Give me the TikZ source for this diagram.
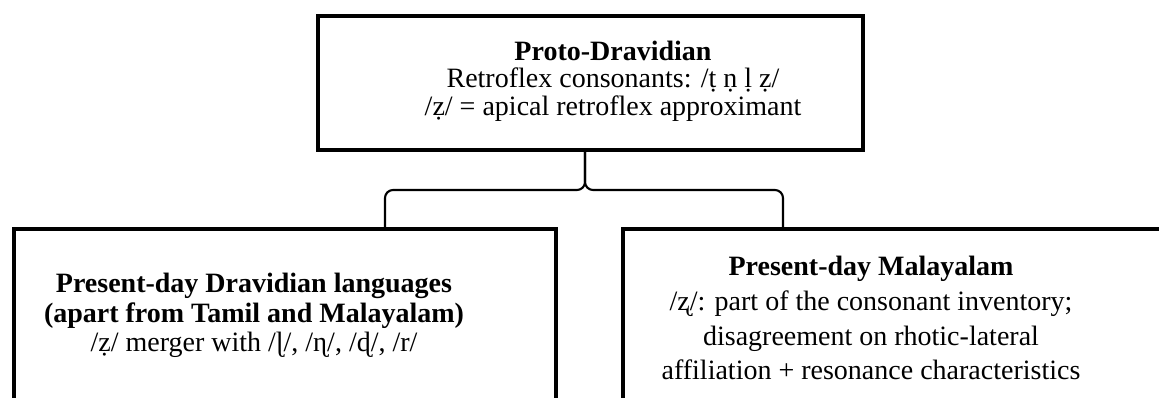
\documentclass[tikz,border=0pt]{standalone}
\usepackage{fontspec}
\setmainfont{Liberation Serif}
\usetikzlibrary{positioning,calc}
\definecolor{ink}{HTML}{000000}

\begin{document}
\begin{tikzpicture}[x=0.75pt,y=-0.75pt,
    font=\fontsize{21}{20.6}\selectfont,
    panel/.style={draw=ink,line width=3pt,fill=white,inner sep=0pt},
    txt/.style={align=center,inner sep=0pt,text=ink},
    brace/.style={draw=ink,line width=1.6pt,rounded corners=6pt}]
  \useasboundingbox (0,0) rectangle (1159,397);
  % boxes
  \node[panel,minimum width=408.75pt,minimum height=100.5pt] (proto) at (590.5,83) {};
  \node[panel,minimum width=406.5pt,minimum height=150pt] (others) at (285,329) {};
  \node[panel,minimum width=411.75pt,minimum height=150pt] (mal) at (897.5,329) {};
  % texts
  \node[txt] (protoT) at (613,81) {
    \textbf{Proto-Dravidian}\\
    Retroflex consonants: /ṭ ṇ ḷ ẓ/\\
    /ẓ/ = apical retroflex approximant};
  \node[txt,font=\fontsize{21}{22}\selectfont] (othersT) at (254,315.5) {
    \textbf{Present-day Dravidian languages}\\
    \textbf{(apart from Tamil and Malayalam)}\\
    /ẓ/ merger with /ɭ/, /ɳ/, /ɖ/, /r/};
  \node[txt,font=\fontsize{21}{26.2}\selectfont] (malT) at (871,318) {
    \textbf{Present-day Malayalam}\\
    /ʐ/: part of the consonant inventory;\\
    disagreement on rhotic-lateral\\
    affiliation + resonance characteristics};
  % brace between the levels
  \coordinate (tip) at (585,190);
  \coordinate (bl) at (385,190);
  \coordinate (br) at (783,190);
  \draw[brace] (proto.south -| tip) -- (tip) -- (bl) -- (bl |- others.north);
  \draw[brace] (proto.south -| tip) -- (tip) -- (br) -- (br |- mal.north);
\end{tikzpicture}
\end{document}
